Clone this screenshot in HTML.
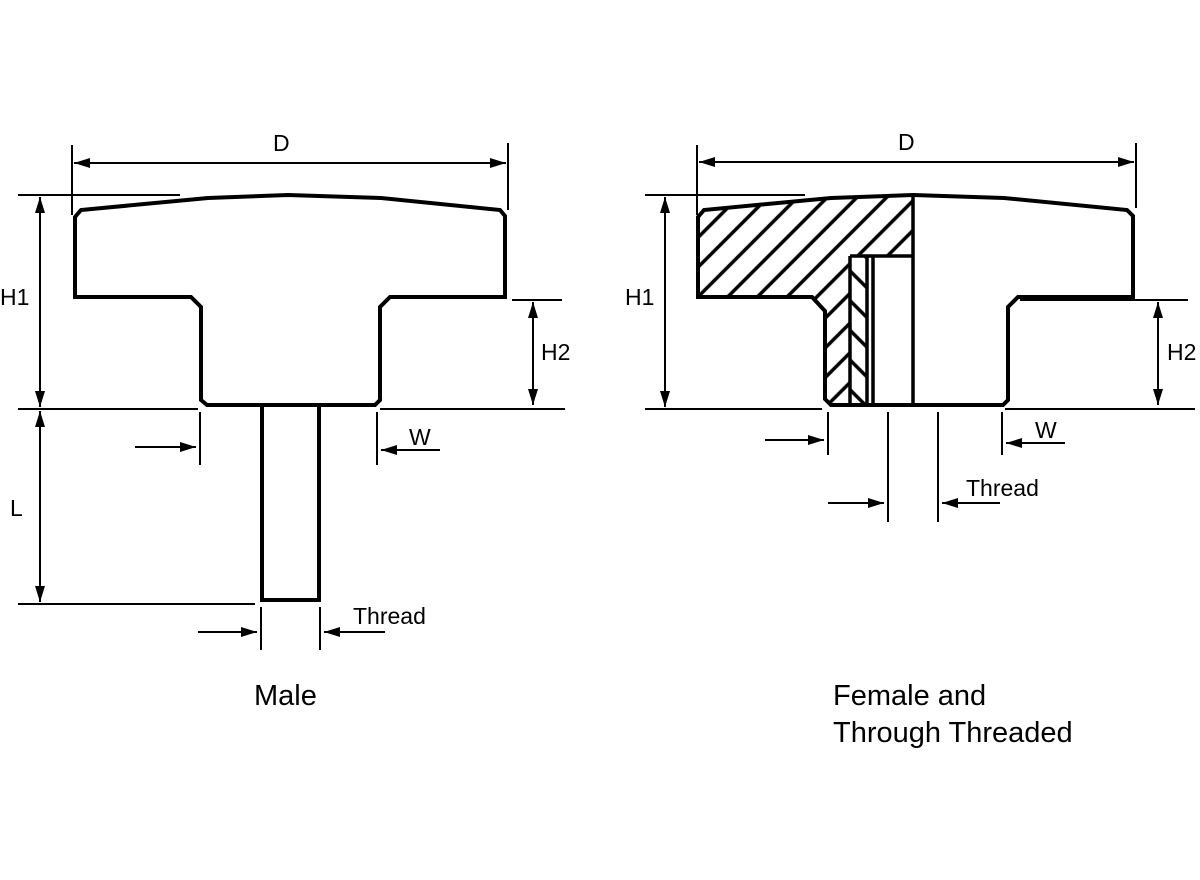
<!DOCTYPE html>
<html><head><meta charset="utf-8"><style>
html,body{margin:0;padding:0;background:#fff;}
svg{display:block}
text{font-family:"Liberation Sans",Arial,sans-serif;fill:#000}
</style></head><body>
<svg width="1200" height="880" viewBox="0 0 1200 880" xmlns="http://www.w3.org/2000/svg">
<defs>
<marker id="b" viewBox="0 0 16 10" refX="16" refY="5" markerWidth="16" markerHeight="12" markerUnits="userSpaceOnUse" orient="auto-start-reverse"><path d="M0,0 L16,5 L0,10 Z" fill="#000"/></marker>
<pattern id="h" patternUnits="userSpaceOnUse" width="21" height="21" patternTransform="rotate(45)"><line x1="10.5" y1="0" x2="10.5" y2="21" stroke="#000" stroke-width="3.5"/></pattern>
<pattern id="h2" patternUnits="userSpaceOnUse" width="21" height="21" patternTransform="rotate(-45)"><line x1="10.5" y1="0" x2="10.5" y2="21" stroke="#000" stroke-width="3.5"/></pattern>
</defs>
<g stroke="#000" fill="none" stroke-width="2">
<!-- LEFT -->
<path d="M75,217 L81,210 L208,198 L288,195 L381,198 L500,210 L505,216 L505,297 L390,297 L380,307 L380,400 L375,405 L207,405 L201,400 L201,307 L191,297 L75,297 Z" stroke-width="4"/>
<rect x="262" y="405" width="57" height="195" stroke-width="4"/>
<line x1="72" y1="145" x2="72" y2="215"/><line x1="508" y1="143" x2="508" y2="210"/>
<line x1="74" y1="163" x2="506" y2="163" marker-start="url(#b)" marker-end="url(#b)"/>
<line x1="18" y1="195" x2="180" y2="195"/>
<line x1="40" y1="197" x2="40" y2="407" marker-start="url(#b)" marker-end="url(#b)"/>
<line x1="512" y1="300" x2="562" y2="300"/>
<line x1="533" y1="302" x2="533" y2="405" marker-start="url(#b)" marker-end="url(#b)"/>
<line x1="18" y1="409" x2="198" y2="409"/><line x1="380" y1="409" x2="565" y2="409"/>
<line x1="40" y1="411" x2="40" y2="602" marker-start="url(#b)" marker-end="url(#b)"/>
<line x1="18" y1="604" x2="255" y2="604"/>
<line x1="200" y1="412" x2="200" y2="465"/><line x1="377" y1="412" x2="377" y2="465"/>
<line x1="135" y1="447" x2="196" y2="447" marker-end="url(#b)"/>
<line x1="440" y1="450" x2="381" y2="450" marker-end="url(#b)"/>
<line x1="261" y1="607" x2="261" y2="650"/><line x1="320" y1="607" x2="320" y2="650"/>
<line x1="198" y1="632" x2="257" y2="632" marker-end="url(#b)"/>
<line x1="385" y1="632" x2="324" y2="632" marker-end="url(#b)"/>
<!-- RIGHT -->
<path d="M698,217 L704,210 L831,198 L913,195 L913,256 L850,256 L850,405 L831,405 L825,399 L825,311 L812,297 L698,297 Z" fill="url(#h)" stroke="none"/>
<rect x="850" y="256" width="17" height="149" fill="#fff" stroke="none"/>
<rect x="850" y="256" width="17" height="149" fill="url(#h2)" stroke="none"/>
<path d="M698,217 L704,210 L831,198 L913,195 L1004,198 L1127,210 L1133,216 L1133,297 L1018,297 L1008,307 L1008,400 L1003,405 L831,405 L825,399 L825,311 L812,297 L698,297 Z" stroke-width="4"/>
<path d="M913,195 L913,405 M850,256 L913,256 M850,256 L850,405 M867,256 L867,405 M873,256 L873,405" stroke-width="3.5"/>
<line x1="697" y1="145" x2="697" y2="215"/><line x1="1136" y1="143" x2="1136" y2="208"/>
<line x1="699" y1="162" x2="1134" y2="162" marker-start="url(#b)" marker-end="url(#b)"/>
<line x1="645" y1="195" x2="805" y2="195"/>
<line x1="665" y1="197" x2="665" y2="407" marker-start="url(#b)" marker-end="url(#b)"/>
<line x1="1020" y1="300" x2="1188" y2="300"/>
<line x1="1158" y1="302" x2="1158" y2="405" marker-start="url(#b)" marker-end="url(#b)"/>
<line x1="645" y1="409" x2="822" y2="409"/><line x1="1005" y1="409" x2="1195" y2="409"/>
<line x1="828" y1="412" x2="828" y2="455"/><line x1="1002" y1="412" x2="1002" y2="455"/>
<line x1="765" y1="440" x2="824" y2="440" marker-end="url(#b)"/>
<line x1="1065" y1="443" x2="1006" y2="443" marker-end="url(#b)"/>
<line x1="888" y1="412" x2="888" y2="522"/><line x1="938" y1="412" x2="938" y2="522"/>
<line x1="828" y1="503" x2="884" y2="503" marker-end="url(#b)"/>
<line x1="1000" y1="503" x2="942" y2="503" marker-end="url(#b)"/>
</g>
<g font-size="23">
<text x="273" y="151">D</text>
<text x="0" y="305">H1</text>
<text x="541" y="360">H2</text>
<text x="10" y="516">L</text>
<text x="409" y="445">W</text>
<text x="353" y="624">Thread</text>
<text x="898" y="150">D</text>
<text x="625" y="305">H1</text>
<text x="1167" y="360">H2</text>
<text x="1035" y="438">W</text>
<text x="966" y="496">Thread</text>
</g>
<g font-size="29">
<text x="254" y="705">Male</text>
<text x="833" y="705">Female and</text>
<text x="833" y="742">Through Threaded</text>
</g>
</svg>
</body></html>
